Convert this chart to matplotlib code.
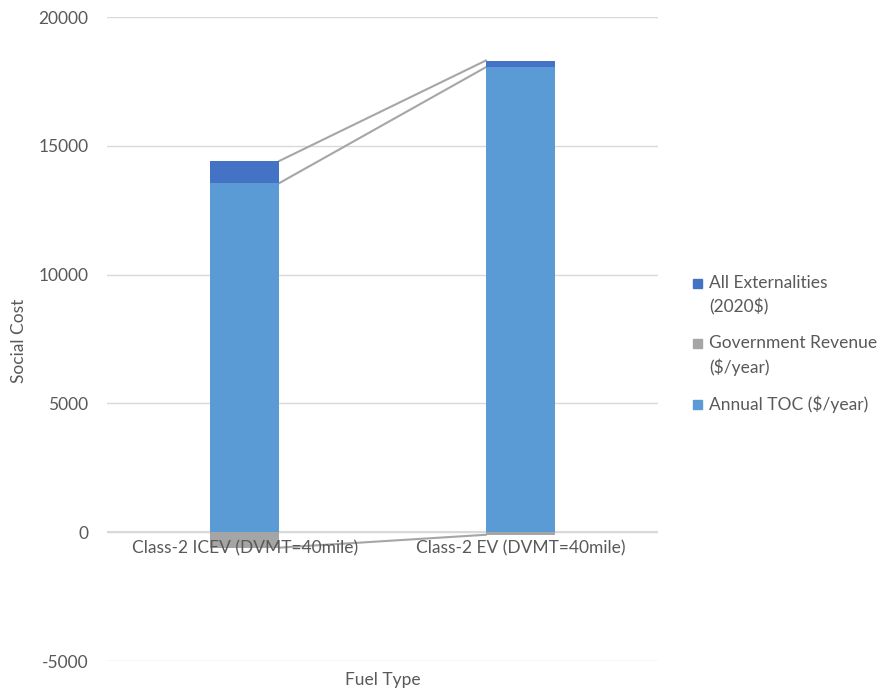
import numpy as np
import matplotlib.pyplot as plt
from matplotlib.patches import Rectangle

categories = ['Class-2 ICEV (DVMT=40mile)', 'Class-2 EV (DVMT=40mile)']
annual_toc = [13550, 18050]
externalities = [860, 260]
gov_revenue = [-600, -100]

C_TOC = '#5B9BD5'
C_EXT = '#4472C4'
C_GOV = '#A5A5A5'
TXT = '#595959'

plt.rcParams['font.family'] = ['Lato', 'DejaVu Sans']
plt.rcParams['axes.unicode_minus'] = False

W, H = 885, 692
fig = plt.figure(figsize=(W / 100, H / 100), dpi=100)
ax = fig.add_axes([107 / W, 1 - 661 / H, (658 - 107) / W, (661 - 17) / H])

x = np.arange(len(categories))
w = 0.25
toc = np.array(annual_toc)
ext = np.array(externalities)
gov = np.array(gov_revenue)

ax.bar(x, toc, w, color=C_TOC, zorder=3)
ax.bar(x, gov, w, color=C_GOV, zorder=3)
ax.bar(x, ext, w, bottom=toc, color=C_EXT, zorder=3)

# series lines between the bars
for level in [toc, toc + ext, gov]:
    ax.plot([x[0] + w / 2, x[1] - w / 2], [level[0], level[1]],
            color='#A6A6A6', lw=1.5, zorder=2)

ax.set_xlim(-0.5, 1.5)
ax.set_ylim(-5000, 20000)
ax.set_yticks(np.arange(-5000, 20001, 5000))
ax.yaxis.grid(True, color='#D9D9D9', lw=1, zorder=0)
ax.axhline(0, color='#D9D9D9', lw=1.5, zorder=1)
for s in ax.spines.values():
    s.set_visible(False)
ax.tick_params(axis='y', length=0, labelcolor=TXT, labelsize=12.5, pad=13.5)
ax.set_xticks([])
for xi, name in zip(x, categories):
    ax.annotate(name, (xi, 0), xytext=(0, -6), textcoords='offset points',
                ha='center', va='top', color=TXT, fontsize=12.5)

fig.text(19 / W, 1 - 341 / H, 'Social Cost', rotation=90, ha='center', va='center',
         color=TXT, fontsize=12.5)
fig.text((107 + 658) / 2 / W, 1 - 680 / H, 'Fuel Type', ha='center', va='center',
         color=TXT, fontsize=12.5)

# legend, drawn like the spreadsheet one (marker on first text line)
legend_items = [
    (C_EXT, ['All Externalities', '(2020$)'], 283),
    (C_GOV, ['Government Revenue', '($/year)'], 343),
    (C_TOC, ['Annual TOC ($/year)'], 404),
]
for color, lines, y0 in legend_items:
    fig.add_artist(Rectangle((693 / W, 1 - (y0 + 5) / H), 9 / W, 9 / H,
                             transform=fig.transFigure, color=color))
    for k, line in enumerate(lines):
        fig.text(709 / W, 1 - (y0 + 24 * k) / H, line, ha='left', va='center',
                 color=TXT, fontsize=12.5)

fig.savefig('out.png', dpi=100)
